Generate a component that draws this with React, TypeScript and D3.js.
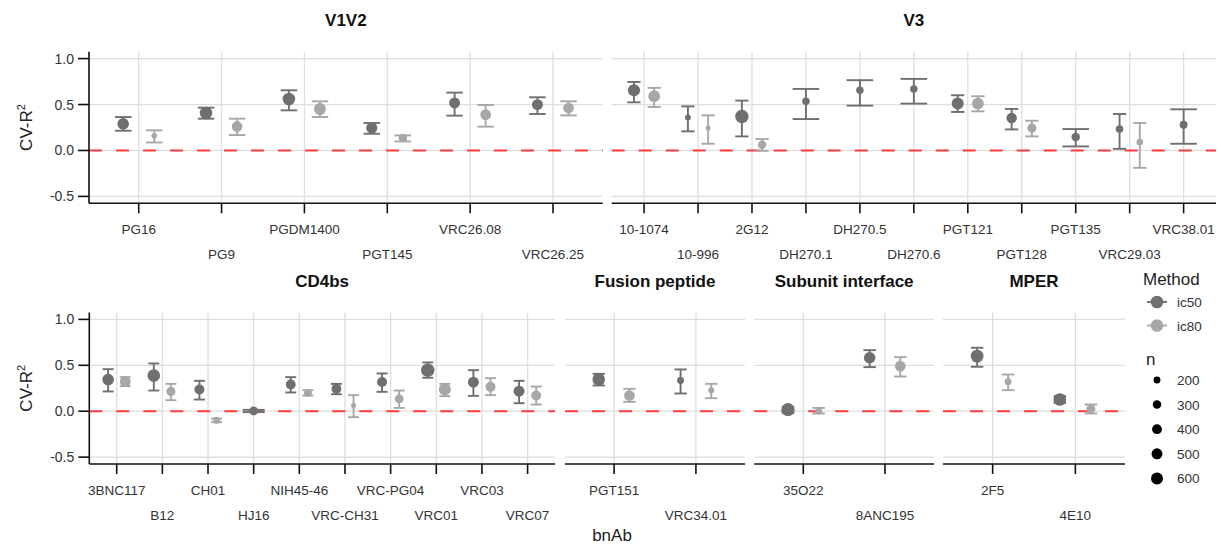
import React from 'react';
import * as d3 from 'd3';

// rows: [bnAb, method, estimate, lower, upper, n]
const v1v2Abs = ['PG16', 'PG9', 'PGDM1400', 'PGT145', 'VRC26.08', 'VRC26.25'];
const v1v2Rows = [
  ['PG16', 'ic50', 0.29, 0.215, 0.364, 560],
  ['PG16', 'ic80', 0.16, 0.087, 0.219, 130],
  ['PG9', 'ic50', 0.408, 0.346, 0.466, 650],
  ['PG9', 'ic80', 0.262, 0.168, 0.346, 470],
  ['PGDM1400', 'ic50', 0.561, 0.437, 0.655, 660],
  ['PGDM1400', 'ic80', 0.452, 0.364, 0.535, 600],
  ['PGT145', 'ic50', 0.244, 0.182, 0.299, 520],
  ['PGT145', 'ic80', 0.135, 0.098, 0.164, 300],
  ['VRC26.08', 'ic50', 0.517, 0.379, 0.63, 500],
  ['VRC26.08', 'ic80', 0.39, 0.259, 0.495, 480],
  ['VRC26.25', 'ic50', 0.499, 0.397, 0.579, 500],
  ['VRC26.25', 'ic80', 0.462, 0.382, 0.535, 480],
];

const v3Abs = ['10-1074', '10-996', '2G12', 'DH270.1', 'DH270.5', 'DH270.6', 'PGT121', 'PGT128', 'PGT135', 'VRC29.03', 'VRC38.01'];
const v3Rows = [
  ['10-1074', 'ic50', 0.655, 0.524, 0.746, 620],
  ['10-1074', 'ic80', 0.59, 0.473, 0.681, 580],
  ['10-996', 'ic50', 0.36, 0.208, 0.48, 140],
  ['10-996', 'ic80', 0.244, 0.073, 0.382, 110],
  ['2G12', 'ic50', 0.371, 0.153, 0.543, 750],
  ['2G12', 'ic80', 0.062, -0.004, 0.124, 300],
  ['DH270.1', 'ic50', 0.535, 0.342, 0.67, 230],
  ['DH270.5', 'ic50', 0.655, 0.488, 0.765, 230],
  ['DH270.6', 'ic50', 0.67, 0.51, 0.779, 230],
  ['PGT121', 'ic50', 0.51, 0.419, 0.601, 600],
  ['PGT121', 'ic80', 0.51, 0.426, 0.59, 580],
  ['PGT128', 'ic50', 0.353, 0.229, 0.452, 460],
  ['PGT128', 'ic80', 0.244, 0.153, 0.324, 340],
  ['PGT135', 'ic50', 0.146, 0.044, 0.233, 300],
  ['VRC29.03', 'ic50', 0.233, 0.018, 0.397, 240],
  ['VRC29.03', 'ic80', 0.091, -0.189, 0.299, 190],
  ['VRC38.01', 'ic50', 0.28, 0.073, 0.448, 260],
];

const cd4Abs = ['3BNC117', 'B12', 'CH01', 'HJ16', 'NIH45-46', 'VRC-CH31', 'VRC-PG04', 'VRC01', 'VRC03', 'VRC07'];
const cd4Rows = [
  ['3BNC117', 'ic50', 0.345, 0.215, 0.458, 560],
  ['3BNC117', 'ic80', 0.324, 0.273, 0.371, 480],
  ['B12', 'ic50', 0.389, 0.225, 0.52, 660],
  ['B12', 'ic80', 0.215, 0.12, 0.298, 340],
  ['CH01', 'ic50', 0.236, 0.127, 0.331, 420],
  ['CH01', 'ic80', -0.098, -0.12, -0.08, 200],
  ['HJ16', 'ic50', 0.003, -0.01, 0.015, 340],
  ['NIH45-46', 'ic50', 0.291, 0.204, 0.371, 400],
  ['NIH45-46', 'ic80', 0.2, 0.171, 0.229, 260],
  ['VRC-CH31', 'ic50', 0.244, 0.185, 0.298, 400],
  ['VRC-CH31', 'ic80', 0.062, -0.065, 0.175, 110],
  ['VRC-PG04', 'ic50', 0.318, 0.211, 0.411, 420],
  ['VRC-PG04', 'ic80', 0.135, 0.036, 0.225, 330],
  ['VRC01', 'ic50', 0.447, 0.364, 0.531, 750],
  ['VRC01', 'ic80', 0.236, 0.164, 0.298, 600],
  ['VRC03', 'ic50', 0.316, 0.167, 0.447, 500],
  ['VRC03', 'ic80', 0.265, 0.175, 0.36, 420],
  ['VRC07', 'ic50', 0.218, 0.087, 0.331, 500],
  ['VRC07', 'ic80', 0.171, 0.073, 0.269, 420],
];

const fusionAbs = ['PGT151', 'VRC34.01'];
const fusionRows = [
  ['PGT151', 'ic50', 0.345, 0.28, 0.407, 650],
  ['PGT151', 'ic80', 0.171, 0.102, 0.244, 480],
  ['VRC34.01', 'ic50', 0.335, 0.193, 0.455, 200],
  ['VRC34.01', 'ic80', 0.229, 0.142, 0.298, 150],
];

const subunitAbs = ['35O22', '8ANC195'];
const subunitRows = [
  ['35O22', 'ic50', 0.018, -0.018, 0.047, 720],
  ['35O22', 'ic80', 0.003, -0.025, 0.036, 200],
  ['8ANC195', 'ic50', 0.582, 0.48, 0.665, 560],
  ['8ANC195', 'ic80', 0.491, 0.378, 0.589, 480],
];

const mperAbs = ['2F5', '4E10'];
const mperRows = [
  ['2F5', 'ic50', 0.6, 0.484, 0.691, 680],
  ['2F5', 'ic80', 0.32, 0.229, 0.4, 200],
  ['4E10', 'ic50', 0.127, 0.09, 0.164, 660],
  ['4E10', 'ic80', 0.025, -0.025, 0.073, 330],
];

const yTicks = [-0.5, 0, 0.5, 1];
const sizeBreaks = [200, 300, 400, 500, 600];
const methods = ['ic50', 'ic80'];

const FONT = '"Liberation Sans", Arial, Helvetica, sans-serif';
const color = d3.scaleOrdinal<string, string>().domain(methods).range(['#6f6f6f', '#a7a7a7']);
const radius = d3.scaleSqrt().domain([0, 600]).range([0, 6]);

const Panel = ({ title, abs, rows, x0, x1, top, bottom, showY, cap }: any) => {
  const x = d3.scalePoint<string>().domain(abs).range([x0, x1]).padding(0.6);
  const step = x.step();
  const y = d3.scaleLinear().domain([-0.575, 1.075]).range([bottom, top]);
  const counts = d3.rollup(rows, (v: any[]) => v.length, (d: any) => d[0]);
  // dodge like ggplot position_dodge(0.75); a lone method stays centred
  const pos = (d: any) => {
    const c = x(d[0])!;
    if (counts.get(d[0]) === 1) return c;
    return c + (d[1] === 'ic50' ? -1 : 1) * 0.1875 * step;
  };
  const capW = (d: any) => (counts.get(d[0]) === 1 ? cap * 2 : cap);
  return (
    <g>
      <text x={(x0 + x1) / 2} y={top - 26} textAnchor="middle" fontWeight="bold" fontSize={17} fill="#111">{title}</text>
      {yTicks.map(t => (
        <line key={'h' + t} x1={x0} x2={x1} y1={y(t)} y2={y(t)} stroke="#dedede" strokeWidth={1.3} />
      ))}
      {abs.map((a: string) => (
        <line key={'v' + a} x1={x(a)} x2={x(a)} y1={top} y2={bottom} stroke="#dedede" strokeWidth={1.3} />
      ))}
      <line x1={x0} x2={x1} y1={y(0)} y2={y(0)} stroke="#ff3b3b" strokeWidth={1.9} strokeDasharray="13 14" />
      {rows.map((d: any, i: number) => (
        <g key={'e' + i} stroke={color(d[1])} strokeWidth={1.9}>
          <line x1={pos(d)} x2={pos(d)} y1={y(d[3])} y2={y(d[4])} />
          <line x1={pos(d) - capW(d) / 2} x2={pos(d) + capW(d) / 2} y1={y(d[3])} y2={y(d[3])} />
          <line x1={pos(d) - capW(d) / 2} x2={pos(d) + capW(d) / 2} y1={y(d[4])} y2={y(d[4])} />
        </g>
      ))}
      {rows.map((d: any, i: number) => (
        <circle key={'p' + i} cx={pos(d)} cy={y(d[2])} r={radius(d[5])} fill={color(d[1])} />
      ))}
      <line x1={x0} x2={x1} y1={bottom} y2={bottom} stroke="#111" strokeWidth={1.6} />
      {abs.map((a: string, i: number) => (
        <g key={'t' + a}>
          <line x1={x(a)} x2={x(a)} y1={bottom} y2={bottom + 10} stroke="#111" strokeWidth={1.6} />
          <text x={x(a)} y={bottom + (i % 2 === 0 ? 31 : 56)} textAnchor="middle" fontSize={13.5} fill="#333">{a}</text>
        </g>
      ))}
      {showY && (
        <g>
          <line x1={x0} x2={x0} y1={top} y2={bottom} stroke="#111" strokeWidth={1.6} />
          {yTicks.map(t => (
            <g key={'y' + t}>
              <line x1={x0 - 11} x2={x0} y1={y(t)} y2={y(t)} stroke="#111" strokeWidth={1.6} />
              <text x={x0 - 15} y={y(t) + 5} textAnchor="end" fontSize={14} fill="#333">{t.toFixed(1)}</text>
            </g>
          ))}
          <text transform={`translate(32,${(top + bottom) / 2}) rotate(-90)`} textAnchor="middle" fontSize={17} fill="#222">
            CV-R<tspan dy={-7} fontSize={11}>2</tspan>
          </text>
        </g>
      )}
    </g>
  );
};

const Legend = ({ x, y }: any) => (
  <g fontFamily={FONT}>
    <text x={x} y={y} fontSize={17} fill="#222">Method</text>
    {methods.map((m, i) => (
      <g key={m}>
        <line x1={x + 4} x2={x + 24} y1={y + 17 + i * 23.5} y2={y + 17 + i * 23.5} stroke={color(m)} strokeWidth={1.9} />
        <circle cx={x + 14} cy={y + 17 + i * 23.5} r={6.3} fill={color(m)} />
        <text x={x + 34} y={y + 22 + i * 23.5} fontSize={13.5} fill="#333">{m}</text>
      </g>
    ))}
    <text x={x + 3} y={y + 80} fontSize={17} fill="#222">n</text>
    {sizeBreaks.map((s, i) => (
      <g key={s}>
        <circle cx={x + 14} cy={y + 95 + i * 24.6} r={radius(s)} fill="#000" />
        <text x={x + 34} y={y + 100 + i * 24.6} fontSize={13.5} fill="#333">{s}</text>
      </g>
    ))}
  </g>
);

export default function App() {
  const topRow = { top: 51.7, bottom: 203.3 };
  const botRow = { top: 312.5, bottom: 464 };
  return (
    <svg width={1221} height={545} style={{ position: 'absolute', left: 0, top: 0, background: '#fff' }} fontFamily={FONT}>
      <Panel title="V1V2" abs={v1v2Abs} rows={v1v2Rows} x0={89} x1={602.7} {...topRow} showY cap={16.5} />
      <Panel title="V3" abs={v3Abs} rows={v3Rows} x0={611.7} x1={1216} {...topRow} cap={13.3} />
      <Panel title="CD4bs" abs={cd4Abs} rows={cd4Rows} x0={89.3} x1={555} {...botRow} showY cap={11} />
      <Panel title="Fusion peptide" abs={fusionAbs} rows={fusionRows} x0={565} x1={745} {...botRow} cap={12.3} />
      <Panel title="Subunit interface" abs={subunitAbs} rows={subunitRows} x0={754.3} x1={934} {...botRow} cap={12.5} />
      <Panel title="MPER" abs={mperAbs} rows={mperRows} x0={943} x1={1125} {...botRow} cap={12.5} />
      <text x={612} y={541} textAnchor="middle" fontSize={17} fill="#222">bnAb</text>
      <Legend x={1143} y={285} />
    </svg>
  );
}
